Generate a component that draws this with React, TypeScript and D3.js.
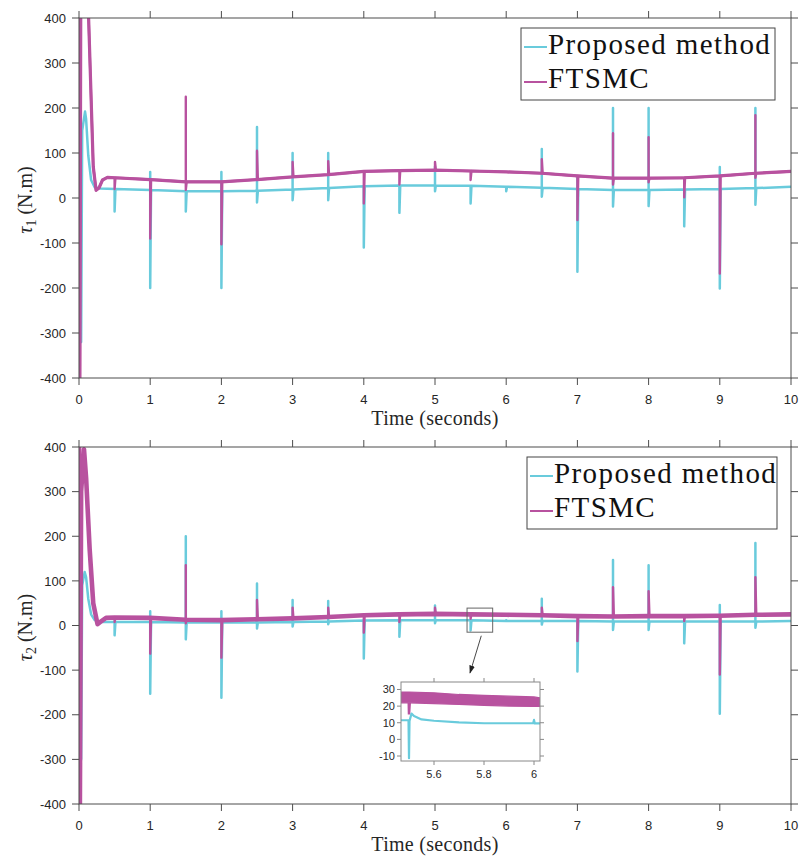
import React from "react";
import * as d3 from "d3";

const CYAN = "#69cbdc";
const MAGENTA = "#b8529f";
const AXIS = "#4d4d4d";
const TEXT = "#262626";

const timeTicks = [0, 1, 2, 3, 4, 5, 6, 7, 8, 9, 10];
const torqueTicks = [-400, -300, -200, -100, 0, 100, 200, 300, 400];
const insetTimeTicks = [5.6, 5.8, 6];
const insetTorqueTicks = [-10, 0, 10, 20, 30];
const seriesNames = ["Proposed method", "FTSMC"];

// disturbance instants (every 0.5 s) where baseline is sampled
const sampleTimes = [0.5, 1, 1.5, 2, 2.5, 3, 3.5, 4, 4.5, 5, 5.5, 6, 6.5, 7, 7.5, 8, 8.5, 9, 9.5, 10];

// ---------- tau1 ----------
const tau1PropStartT = [0, 0.03, 0.045, 0.085, 0.1, 0.13, 0.17, 0.22, 0.3];
const tau1PropStartV = [0, -320, 150, 192, 175, 95, 40, 24, 21];
const tau1PropBase = [20, 18, 15, 15, 16, 19, 22, 26, 28, 28, 27, 25, 23, 20, 18, 18, 19, 20, 22, 25];
const tau1PropUp = [null, 58, null, 58, 158, 100, 100, null, null, 70, null, null, 109, 49, 200, 200, null, 69, 200, null];
const tau1PropDown = [-30, -200, -30, -200, -10, -5, -5, -110, -33, 15, -12, 15, 3, -164, -19, -18, -63, -201, -15, null];

const tau1FtStartT = [0, 0.012, 0.025, 0.12, 0.135, 0.2, 0.24, 0.28, 0.33, 0.4];
const tau1FtStartV = [420, -420, 450, 450, 400, 70, 17, 22, 40, 46];
const tau1FtBase = [45, 41, 36, 36, 41, 47, 52, 59, 61, 62, 60, 58, 55, 49, 44, 44, 45, 49, 55, 59];
const tau1FtUp = [null, null, 225, null, 105, 80, 82, null, null, 80, null, null, 86, null, 144, 135, null, null, 184, null];
const tau1FtDown = [20, -90, 18, -103, null, null, null, -12, 30, null, 40, null, null, -49, 30, 35, 1.5, -168, 45, null];

// ---------- tau2 ----------
const tau2PropStartT = [0, 0.03, 0.045, 0.08, 0.1, 0.13, 0.17, 0.22, 0.3];
const tau2PropStartV = [0, -300, 90, 120, 108, 60, 25, 12, 8];
const tau2PropBase = [8, 8, 7, 7, 7, 8, 9, 11, 12, 12, 11.5, 10, 10, 10, 9, 9, 9, 9, 9, 10];
const tau2PropUp = [null, 32, 200, 32, 94, 57, 55, null, null, 45, null, 12, 60, null, 147, 135, null, 46, 185, null];
const tau2PropDown = [-22, -153, -31, -162, -7, -2, 3, -74, -25, 5, -11, null, 2, -103, -10, -10, -40, -198, -5, null];

const tau2FtStartT = [0, 0.012, 0.03, 0.07, 0.1, 0.15, 0.2, 0.26, 0.3, 0.38];
const tau2FtStartV = [420, -420, 300, 395, 330, 170, 50, 3, 8, 17];
const tau2FtBase = [18, 17, 13, 12, 14, 16, 19, 23, 25, 26, 25, 24, 23, 21, 20, 21, 21, 22, 24, 25];
const tau2FtUp = [null, null, 135, null, 57, 40, 40, null, null, 40, null, null, 40, null, 86, 77, null, null, 108, null];
const tau2FtDown = [8, -63, 5, -72, null, null, null, -16, 8, null, 15, null, null, -35, null, null, 10, -110, null, null];

// ---------- inset (zoom on tau2 around t = 5.5 .. 6) ----------
const insetDomainT = [5.468, 6.024];
const insetDomainV = [-13, 34.5];
const insetFtT = [5.468, 5.5, 5.6, 5.7, 5.8, 5.9, 6.0, 6.024];
const insetFtHi = [28.5, 28.5, 28, 27, 26.5, 26, 25.5, 25];
const insetFtLo = [22, 22, 21.5, 21, 20.5, 20, 19.8, 19.8];
const insetFtDipT = [5.499, 5.5, 5.503];
const insetFtDipV = [22, 15, 22];
const insetPropT = [5.468, 5.498, 5.5, 5.502, 5.51, 5.52, 5.55, 5.6, 5.7, 5.8, 5.9, 5.997, 6.0, 6.003, 6.024];
const insetPropV = [11.5, 11.5, -11.3, 11, 15.5, 14, 12, 11.2, 10.2, 9.7, 9.7, 9.8, 11.7, 9.6, 9.6];
const zoomWindowT = [5.45, 5.81];
const zoomWindowV = [-15, 39];
const arrowFrom = [5.65, -23]; // tau2 plot coordinates
const arrowTo = [5.744, 40]; // inset coordinates

type Pt = [number, number];

function buildSeries(
  startT: number[],
  startV: number[],
  base: number[],
  up: (number | null)[],
  down: (number | null)[]
): Pt[] {
  const pts: Pt[] = startT.map((t, i) => [t, startV[i]] as Pt);
  sampleTimes.forEach((t, i) => {
    const b = base[i];
    pts.push([t, b]);
    const u = up[i];
    const d = down[i];
    if (u == null && d == null) return;
    if (u != null) pts.push([t, u]);
    if (d != null) pts.push([t, d]);
    pts.push([t + 0.012, b]);
  });
  return pts;
}

function buildBaseline(startT: number[], startV: number[], base: number[]): Pt[] {
  const pts: Pt[] = startT.map((t, i) => [t, startV[i]] as Pt);
  sampleTimes.forEach((t, i) => pts.push([t, base[i]]));
  return pts;
}

const X0 = 79;
const X1 = 791;

type PanelProps = {
  id: string;
  top: number;
  bottom: number;
  sub: string;
  prop: Pt[];
  ft: Pt[];
  ftBand: Pt[];
  ftWidth: number;
  ftBandWidth: number;
  legendLeft: number;
  legendRight: number;
  legendTop: number;
  children?: (x: d3.ScaleLinear<number, number>, y: d3.ScaleLinear<number, number>) => React.ReactNode;
};

function Panel({ id, top, bottom, sub, prop, ft, ftBand, ftWidth, ftBandWidth, legendLeft, legendRight, legendTop, children }: PanelProps) {
  const x = d3.scaleLinear().domain([0, 10]).range([X0, X1]);
  const y = d3.scaleLinear().domain([-400, 400]).range([bottom, top]);
  const line = d3
    .line<Pt>()
    .x((d) => x(d[0]))
    .y((d) => y(d[1]));
  const tick = 7;
  const cy = (top + bottom) / 2 + 2;
  return (
    <g>
      <defs>
        <clipPath id={id}>
          <rect x={X0} y={top} width={X1 - X0} height={bottom - top} />
        </clipPath>
      </defs>
      <g clipPath={`url(#${id})`}>
        <path d={line(prop) || ""} fill="none" stroke={CYAN} strokeWidth={2.5} strokeLinejoin="round" />
        <path d={line(ftBand) || ""} fill="none" stroke={MAGENTA} strokeWidth={ftBandWidth} strokeLinejoin="round" />
        <path d={line(ft) || ""} fill="none" stroke={MAGENTA} strokeWidth={ftWidth} strokeLinejoin="round" />
      </g>
      {/* frame */}
      <rect x={X0} y={top} width={X1 - X0} height={bottom - top} fill="none" stroke={AXIS} strokeWidth={1} />
      {timeTicks.map((t) => (
        <g key={"xt" + t}>
          <line x1={x(t)} x2={x(t)} y1={bottom} y2={bottom + tick} stroke={AXIS} />
          <line x1={x(t)} x2={x(t)} y1={top} y2={top - tick} stroke={AXIS} />
          <text x={x(t)} y={bottom + 26} textAnchor="middle" fontFamily="Liberation Sans, Arial, sans-serif" fontSize={13} fill={TEXT}>
            {t}
          </text>
        </g>
      ))}
      {torqueTicks.map((v) => (
        <g key={"yt" + v}>
          <line x1={X0} x2={X0 - tick} y1={y(v)} y2={y(v)} stroke={AXIS} />
          <line x1={X1} x2={X1 + tick} y1={y(v)} y2={y(v)} stroke={AXIS} />
          <text x={X0 - 13} y={y(v)} dy="0.36em" textAnchor="end" fontFamily="Liberation Sans, Arial, sans-serif" fontSize={13} fill={TEXT}>
            {v}
          </text>
        </g>
      ))}
      <text x={(X0 + X1) / 2} y={bottom + 47} textAnchor="middle" fontFamily="Liberation Serif, serif" fontSize={20} letterSpacing={0.3} fill={TEXT}>
        Time (seconds)
      </text>
      <text transform={`translate(32, ${cy}) rotate(-90)`} textAnchor="middle" fontFamily="Liberation Serif, serif" fontSize={20} fill={TEXT}>
        <tspan fontStyle="italic">τ</tspan>
        <tspan fontSize={14} dy={4}>
          {sub}
        </tspan>
        <tspan dy={-4}> (N.m)</tspan>
      </text>
      {children && children(x, y)}
      {/* legend */}
      <g>
        <rect x={legendLeft} y={legendTop} width={legendRight - legendLeft} height={72} fill="#fff" stroke="#444" strokeWidth={1} />
        {seriesNames.map((name, i) => (
          <g key={name}>
            <line
              x1={legendLeft + 3}
              x2={legendLeft + 26}
              y1={legendTop + 19 + i * 35}
              y2={legendTop + 19 + i * 35}
              stroke={i === 0 ? CYAN : MAGENTA}
              strokeWidth={2}
            />
            <text
              x={legendLeft + 27}
              y={legendTop + 26 + i * 34}
              fontFamily="Liberation Serif, serif"
              fontSize={29}
              letterSpacing={1.4}
              fill="#111"
            >
              {name}
            </text>
          </g>
        ))}
      </g>
    </g>
  );
}

function Inset() {
  const left = 401;
  const right = 540;
  const top = 682;
  const bottom = 761;
  const x = d3.scaleLinear().domain(insetDomainT).range([left, right]);
  const y = d3.scaleLinear().domain(insetDomainV).range([bottom, top]);
  const line = d3
    .line<Pt>()
    .x((d) => x(d[0]))
    .y((d) => y(d[1]));
  const area = d3
    .area<number>()
    .x((_, i) => x(insetFtT[i]))
    .y0((_, i) => y(insetFtLo[i]))
    .y1((_, i) => y(insetFtHi[i]));
  const propPts: Pt[] = insetPropT.map((t, i) => [t, insetPropV[i]]);
  const dipPts: Pt[] = insetFtDipT.map((t, i) => [t, insetFtDipV[i]]);
  const tk = 4;
  return (
    <g>
      <defs>
        <clipPath id="insetClip">
          <rect x={left} y={top} width={right - left} height={bottom - top} />
        </clipPath>
      </defs>
      <rect x={left} y={top} width={right - left} height={bottom - top} fill="#fff" />
      <g clipPath="url(#insetClip)">
        <path d={area(insetFtT) || ""} fill={MAGENTA} stroke={MAGENTA} strokeWidth={1.2} />
        <path d={line(dipPts) || ""} fill="none" stroke={MAGENTA} strokeWidth={2.5} />
        <path d={line(propPts) || ""} fill="none" stroke={CYAN} strokeWidth={2.2} strokeLinejoin="round" />
      </g>
      <rect x={left} y={top} width={right - left} height={bottom - top} fill="none" stroke="#888" strokeWidth={1} />
      {insetTimeTicks.map((t) => (
        <g key={"ixt" + t}>
          <line x1={x(t)} x2={x(t)} y1={bottom} y2={bottom + tk} stroke="#888" />
          <line x1={x(t)} x2={x(t)} y1={top} y2={top - tk} stroke="#888" />
          <text x={x(t)} y={bottom + 17} textAnchor="middle" fontFamily="Liberation Sans, Arial, sans-serif" fontSize={11} fill={TEXT}>
            {t}
          </text>
        </g>
      ))}
      {insetTorqueTicks.map((v) => (
        <g key={"iyt" + v}>
          <line x1={left} x2={left - tk} y1={y(v)} y2={y(v)} stroke="#888" />
          <line x1={right} x2={right + tk} y1={y(v)} y2={y(v)} stroke="#888" />
          <text x={left - 6} y={y(v)} dy="0.36em" textAnchor="end" fontFamily="Liberation Sans, Arial, sans-serif" fontSize={11} fill={TEXT}>
            {v}
          </text>
        </g>
      ))}
    </g>
  );
}

export default function App() {
  const tau1Prop = buildSeries(tau1PropStartT, tau1PropStartV, tau1PropBase, tau1PropUp, tau1PropDown);
  const tau1Ft = buildSeries(tau1FtStartT, tau1FtStartV, tau1FtBase, tau1FtUp, tau1FtDown);
  const tau1FtBand = buildBaseline(tau1FtStartT, tau1FtStartV, tau1FtBase);
  const tau2Prop = buildSeries(tau2PropStartT, tau2PropStartV, tau2PropBase, tau2PropUp, tau2PropDown);
  const tau2Ft = buildSeries(tau2FtStartT, tau2FtStartV, tau2FtBase, tau2FtUp, tau2FtDown);
  const tau2FtBand = buildBaseline(tau2FtStartT, tau2FtStartV, tau2FtBase);

  const insetX = d3.scaleLinear().domain(insetDomainT).range([401, 540]);
  const insetY = d3.scaleLinear().domain(insetDomainV).range([761, 682]);

  return (
    <svg width={803} height={856} viewBox="0 0 803 856" style={{ position: "absolute", left: 0, top: 0, background: "#fff" }}>
      <rect x={0} y={0} width={803} height={856} fill="#fff" />
      <defs>
        <marker id="arrowHead" viewBox="0 0 10 10" refX={9} refY={5} markerWidth={9} markerHeight={9} orient="auto-start-reverse">
          <path d="M0,1.5 L10,5 L0,8.5 Z" fill="#222" />
        </marker>
      </defs>
      <Panel
        id="clipTop"
        top={18}
        bottom={378}
        sub="1"
        prop={tau1Prop}
        ft={tau1Ft}
        ftBand={tau1FtBand}
        ftWidth={2.4}
        ftBandWidth={3.2}
        legendLeft={521}
        legendRight={775}
        legendTop={28}
      />
      <Panel
        id="clipBottom"
        top={447}
        bottom={804}
        sub="2"
        prop={tau2Prop}
        ft={tau2Ft}
        ftBand={tau2FtBand}
        ftWidth={2.4}
        ftBandWidth={4.6}
        legendLeft={527}
        legendRight={777}
        legendTop={457}
      >
        {(x, y) => (
          <g>
            <rect
              x={x(zoomWindowT[0])}
              y={y(zoomWindowV[1])}
              width={x(zoomWindowT[1]) - x(zoomWindowT[0])}
              height={y(zoomWindowV[0]) - y(zoomWindowV[1])}
              fill="none"
              stroke="#666"
              strokeWidth={1}
            />
            <line
              x1={x(arrowFrom[0])}
              y1={y(arrowFrom[1])}
              x2={insetX(arrowTo[0])}
              y2={insetY(arrowTo[1])}
              stroke="#333"
              strokeWidth={0.9}
              markerEnd="url(#arrowHead)"
            />
          </g>
        )}
      </Panel>
      <Inset />
    </svg>
  );
}
